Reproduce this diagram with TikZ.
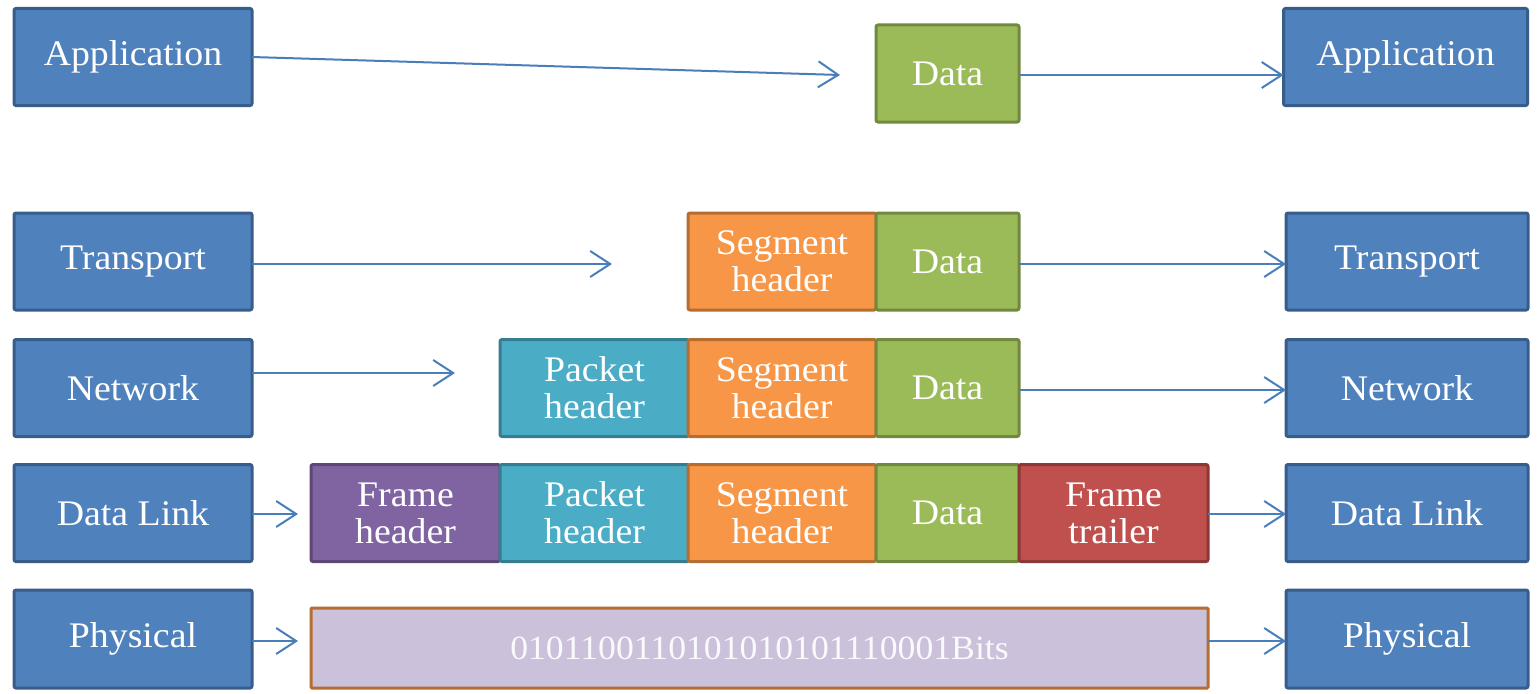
\documentclass[tikz,border=0pt]{standalone}
\usepackage{fontspec}
\setmainfont{Liberation Serif}[FakeStretch=1.05]
\usetikzlibrary{arrows.meta}

\definecolor{layerfill}{HTML}{4F81BD}
\definecolor{layerline}{HTML}{385D8A}
\definecolor{datafill}{HTML}{9BBB59}
\definecolor{dataline}{HTML}{71893F}
\definecolor{segfill}{HTML}{F79646}
\definecolor{segline}{HTML}{B66D31}
\definecolor{pktfill}{HTML}{4BACC6}
\definecolor{pktline}{HTML}{357D91}
\definecolor{frmfill}{HTML}{8064A2}
\definecolor{frmline}{HTML}{5C4776}
\definecolor{trlfill}{HTML}{C0504D}
\definecolor{trlline}{HTML}{8C3836}
\definecolor{bitfill}{HTML}{CCC1DA}
\definecolor{flowline}{HTML}{4A7EBB}

\begin{document}
\begin{tikzpicture}[x=1pt,y=-1pt,
  box/.style={line width=3pt,rounded corners=2pt,text=white,align=center,
    inner sep=0pt,outer sep=0pt,minimum height=97pt,
    font=\fontsize{36}{37}\selectfont},
  layer/.style={box,fill=layerfill,draw=layerline,minimum width=238pt},
  data/.style={box,fill=datafill,draw=dataline,minimum width=143pt},
  seghdr/.style={box,fill=segfill,draw=segline,minimum width=188pt},
  pkthdr/.style={box,fill=pktfill,draw=pktline,minimum width=189pt},
  frmhdr/.style={box,fill=frmfill,draw=frmline,minimum width=189pt},
  frmtrl/.style={box,fill=trlfill,draw=trlline,minimum width=189pt},
  flow/.style={draw=flowline,line width=2pt,
    -{Straight Barb[length=20pt,width=26pt,line width=2pt]}}]
\useasboundingbox (0,0) rectangle (1538,693);

% layers, sending side and receiving side
\node[layer] (appL) at (133,57) {Application};
\node[layer] (trL) at (133,261.5) {Transport};
\node[layer] (nwL) at (133,388) {Network};
\node[layer] (dlL) at (133,513) {Data Link};
\node[layer,minimum height=98pt] (phL) at (133,639) {Physical};
\node[layer,minimum width=244pt] (appR) at (1405.5,57) {Application};
\node[layer,minimum width=242pt] (trR) at (1407,261.5) {Transport};
\node[layer,minimum width=242pt] (nwR) at (1407,388) {Network};
\node[layer,minimum width=242pt] (dlR) at (1407,513) {Data Link};
\node[layer,minimum width=242pt,minimum height=98pt] (phR) at (1407,639) {Physical};

% application
\node[data] (app0) at (947.5,73.5) {Data};

% transport
\node[seghdr] (tr1) at (782,261.5) {Segment\\header};
\node[data] (tr0) at (947.5,261.5) {Data};

% network
\node[pkthdr] (nw2) at (594.5,388) {Packet\\header};
\node[seghdr] (nw1) at (782,388) {Segment\\header};
\node[data] (nw0) at (947.5,388) {Data};

% data link
\node[frmhdr] (dl3) at (405.5,513) {Frame\\header};
\node[pkthdr] (dl2) at (594.5,513) {Packet\\header};
\node[seghdr] (dl1) at (782,513) {Segment\\header};
\node[data] (dl0) at (947.5,513) {Data};
\node[frmtrl] (dl4) at (1113.5,513) {Frame\\trailer};

% physical
\node[box,fill=bitfill,draw=segline,minimum width=897pt,minimum height=80pt,
  rounded corners=1pt,text=white!90!bitfill,font=\fontsize{34}{36}\selectfont]
  (bits) at (759.5,648) {0101100110101010101110001Bits};

\coordinate (appTip) at (840,75);
\coordinate (trTip) at (612,264);
\coordinate (nwTip) at (455,373);
\coordinate (dlTip) at (298,514);
\coordinate (phTip) at (298,641);

\draw[flow] (appL.east) -- (appTip);
\draw[flow] (trL.east |- trTip) -- (trTip);
\draw[flow] (nwL.east |- nwTip) -- (nwTip);
\draw[flow] (dlL.east |- dlTip) -- (dlTip);
\draw[flow] (phL.east |- phTip) -- (phTip);

\draw[flow] ([yshift=-1.5pt]app0.east) -- ([yshift=-1.5pt]app0.east -| appR.west);
\draw[flow] ([yshift=-2.5pt]tr0.east) -- ([yshift=-2.5pt]tr0.east -| trR.west);
\draw[flow] ([yshift=-2pt]nw0.east) -- ([yshift=-2pt]nw0.east -| nwR.west);
\draw[flow] ([yshift=-1pt]dl4.east) -- ([yshift=-1pt]dl4.east -| dlR.west);
\draw[flow] (bits.east |- phTip) -- (phTip -| phR.west);
\end{tikzpicture}
\end{document}
